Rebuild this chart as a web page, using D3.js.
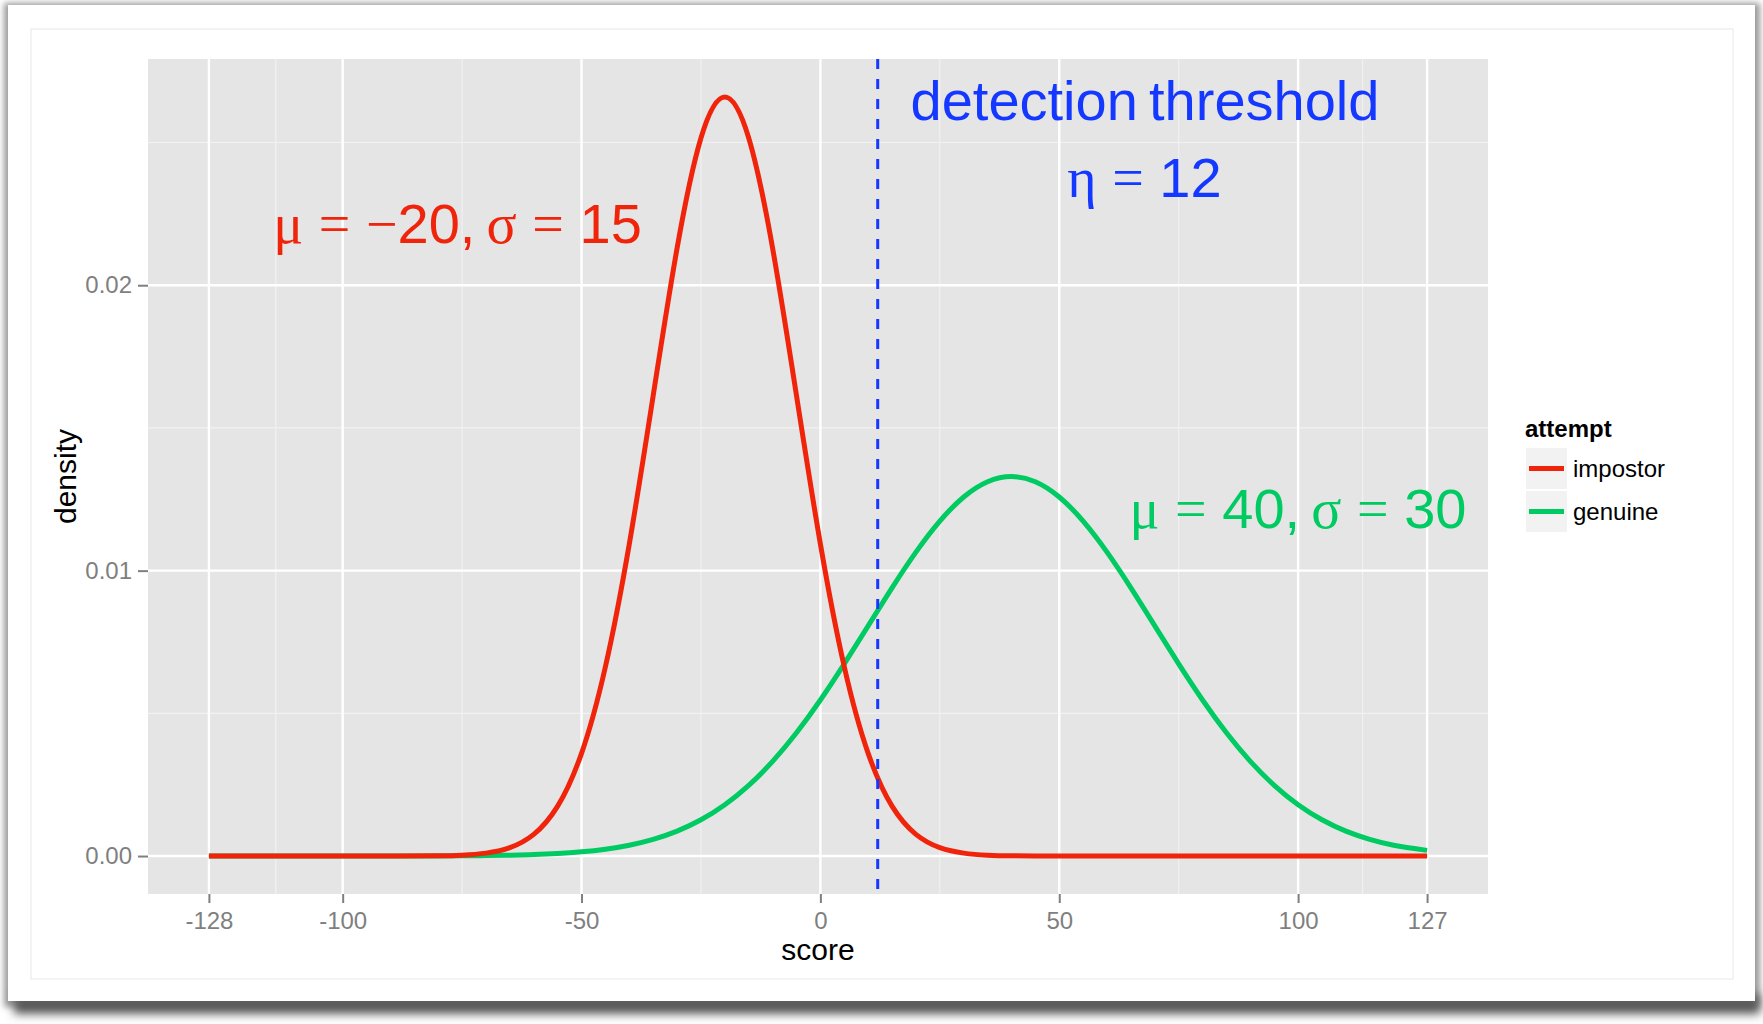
<!DOCTYPE html>
<html>
<head>
<meta charset="utf-8">
<script src="https://cdnjs.cloudflare.com/ajax/libs/d3/7.8.5/d3.min.js"></script>
<style>
    body { margin: 0; background: #fff; }
    svg { display: block; font-family: "Liberation Sans", Arial, Helvetica, sans-serif; }
    .axis .tick text { fill: #7f7f7f; font-size: 24px; }
    .axis .tick line { stroke: #7f7f7f; stroke-width: 2; }
    .axis .domain { display: none; }
    .math { white-space: pre; font-size: 56px; }
</style>
</head>
<body>
<svg id="chart" width="1763" height="1024"></svg>
<script>
// score grid the densities were read at
var scores = [-128, -110, -100, -90, -80, -75, -70, -65, -60, -55, -50, -45, -40, -35, -30, -25, -20, -15, -10, -5,
    0, 5, 10, 15, 20, 25, 30, 35, 40, 45, 50, 55, 60, 65, 70, 75, 80, 85, 90, 95, 100, 105, 110, 115, 120, 127];
var impostor = [0, 0, 0, 0.0000005, 0.0000089, 0.000032, 0.000103, 0.000295, 0.00076, 0.001748, 0.003599, 0.006633,
    0.010934, 0.016131, 0.021296, 0.025159, 0.026596, 0.025159, 0.021296, 0.016131, 0.010934, 0.006633, 0.003599,
    0.001748, 0.00076, 0.000295, 0.000103, 0.000032, 0.0000089, 0.0000022, 0.0000005, 0, 0, 0, 0, 0, 0, 0, 0, 0,
    0, 0, 0, 0, 0, 0];
var genuine = [0, 0, 0.0000002, 0.0000011, 0.0000045, 0.0000086, 0.000016, 0.000029, 0.000051, 0.000088, 0.000148,
    0.00024, 0.00038, 0.000584, 0.000874, 0.001272, 0.0018, 0.002478, 0.003317, 0.004318, 0.005467, 0.006733,
    0.008065, 0.009397, 0.010648, 0.011735, 0.01258, 0.013115, 0.013298, 0.013115, 0.01258, 0.011735, 0.010648,
    0.009397, 0.008065, 0.006733, 0.005467, 0.004318, 0.003317, 0.002478, 0.0018, 0.001272, 0.000874, 0.000584,
    0.00038, 0.000198];
var x_ticks = [-128, -100, -50, 0, 50, 100, 127];
var x_minor = [-114, -75, -25, 25, 75, 113.5];
var y_ticks = [0, 0.01, 0.02];
var y_minor = [0.005, 0.015, 0.025];
var threshold = 12;
var legend_names = ["impostor", "genuine"];

var col_imp = "#f0240a";
var col_gen = "#00ca62";
var col_thr = "#1438ff";
var serif = "'Liberation Serif', 'Times New Roman', serif";

var svg = d3.select("#chart");
var pad_left = 148, pad_top = 59, pad_right = 1488, pad_bot = 894;

// card with drop shadow
var defs = svg.append("defs");
defs.append("filter").attr("id", "blur").attr("x", "-5%").attr("y", "-10%").attr("width", "110%").attr("height", "120%")
        .append("feGaussianBlur").attr("stdDeviation", 3);
defs.append("filter").attr("id", "blur2").attr("x", "-5%").attr("y", "-100%").attr("width", "110%").attr("height", "300%")
        .append("feGaussianBlur").attr("stdDeviation", 5);
svg.append("rect").attr("x", 4).attr("y", 3).attr("width", 1756).attr("height", 1004)
        .attr("fill", "#9a9a9a").attr("filter", "url(#blur)");
svg.append("rect").attr("x", 14).attr("y", 994).attr("width", 1746).attr("height", 20)
        .attr("fill", "#5a5a5a").attr("filter", "url(#blur2)");
svg.append("rect").attr("x", 8).attr("y", 5).attr("width", 1747).attr("height", 996).attr("fill", "#fff");
svg.append("rect").attr("x", 31).attr("y", 29).attr("width", 1702).attr("height", 950)
        .attr("fill", "none").attr("stroke", "#f0f0f0").attr("stroke-width", 1.5);

var y_max = d3.max(impostor.concat(genuine));
var x = d3.scaleLinear().domain([-128 - 255 * 0.05, 127 + 255 * 0.05]).range([pad_left, pad_right]);
var y = d3.scaleLinear().domain([-y_max * 0.05, y_max * 1.05]).range([pad_bot, pad_top]);

svg.append("rect").attr("x", pad_left).attr("y", pad_top)
        .attr("width", pad_right - pad_left).attr("height", pad_bot - pad_top).attr("fill", "#e5e5e5");

var grid = svg.append("g");
grid.selectAll(".vmin").data(x_minor).enter().append("line")
        .attr("x1", x).attr("x2", x).attr("y1", pad_top).attr("y2", pad_bot)
        .attr("stroke", "#f2f2f2").attr("stroke-width", 1.1);
grid.selectAll(".hmin").data(y_minor).enter().append("line")
        .attr("y1", y).attr("y2", y).attr("x1", pad_left).attr("x2", pad_right)
        .attr("stroke", "#f2f2f2").attr("stroke-width", 1.1);
grid.selectAll(".vmaj").data(x_ticks).enter().append("line")
        .attr("x1", x).attr("x2", x).attr("y1", pad_top).attr("y2", pad_bot)
        .attr("stroke", "#fff").attr("stroke-width", 2.4);
grid.selectAll(".hmaj").data(y_ticks).enter().append("line")
        .attr("y1", y).attr("y2", y).attr("x1", pad_left).attr("x2", pad_right)
        .attr("stroke", "#fff").attr("stroke-width", 2.4);

var line = d3.line()
        .x(function (d, i) { return x(scores[i]); })
        .y(function (d) { return y(d); })
        .curve(d3.curveNatural);
svg.append("path").datum(genuine).attr("d", line)
        .attr("fill", "none").attr("stroke", col_gen).attr("stroke-width", 5);
svg.append("path").datum(impostor).attr("d", line)
        .attr("fill", "none").attr("stroke", col_imp).attr("stroke-width", 5);

svg.append("line")
        .attr("x1", x(threshold)).attr("x2", x(threshold)).attr("y1", pad_top).attr("y2", pad_bot)
        .attr("stroke", col_thr).attr("stroke-width", 3).attr("stroke-dasharray", "10,10");

// plotmath style labels, greek letters in serif
function math_label(cx, by, color, parts) {
    var t = svg.append("text").attr("class", "math")
            .attr("x", cx).attr("y", by).attr("text-anchor", "middle").attr("fill", color);
    parts.forEach(function (p) {
        var s = t.append("tspan").text(p[0]);
        if (p[1])
            s.attr("font-family", serif);
    });
}
math_label(457.5, 243, col_imp, [["μ", 1], [" "], ["=", 1], [" "], ["−", 1], ["20,\u2009"], ["σ", 1], [" "], ["=", 1], [" "], ["15"]]);
math_label(1298, 528, col_gen, [["μ", 1], [" "], ["=", 1], [" "], ["40,\u2009"], ["σ", 1], [" "], ["=", 1], [" "], ["30"]]);
math_label(1145, 120, col_thr, [["detection\u2009threshold"]]);
math_label(1144.5, 197, col_thr, [["η", 1], [" "], ["=", 1], [" "], ["12"]]);

// axes
svg.append("g").attr("class", "axis")
        .attr("transform", "translate(0," + pad_bot + ")")
        .call(d3.axisBottom(x).tickValues(x_ticks).tickSize(9).tickPadding(9).tickFormat(function (d) { return String(d); }));
svg.append("g").attr("class", "axis")
        .attr("transform", "translate(" + pad_left + ",0)")
        .call(d3.axisLeft(y).tickValues(y_ticks).tickSize(10).tickPadding(6).tickFormat(d3.format(".2f")));
svg.selectAll(".axis").attr("font-family", null).attr("font-size", null);

svg.append("text").attr("x", (pad_left + pad_right) / 2).attr("y", 960)
        .attr("text-anchor", "middle").style("font-size", "30px").text("score");
svg.append("text").attr("transform", "translate(76," + (pad_top + pad_bot) / 2 + ") rotate(-90)")
        .attr("text-anchor", "middle").style("font-size", "30px").text("density");

// legend
var legend = svg.append("g").attr("transform", "translate(1525,0)");
legend.append("text").attr("x", 0).attr("y", 437)
        .style("font-size", "24px").style("font-weight", "bold").text("attempt");
var keys = legend.selectAll(".key").data(legend_names).enter().append("g")
        .attr("transform", function (d, i) { return "translate(0," + (447 + i * 43) + ")"; });
keys.append("rect").attr("width", 43).attr("height", 43)
        .attr("fill", "#f2f2f2").attr("stroke", "#fff").attr("stroke-width", 2);
keys.append("line").attr("x1", 4).attr("x2", 39).attr("y1", 21.5).attr("y2", 21.5)
        .attr("stroke", function (d, i) { return i == 0 ? col_imp : col_gen; }).attr("stroke-width", 5);
keys.append("text").attr("x", 48).attr("y", 30).style("font-size", "24px").text(function (d) { return d; });
</script>
</body>
</html>
